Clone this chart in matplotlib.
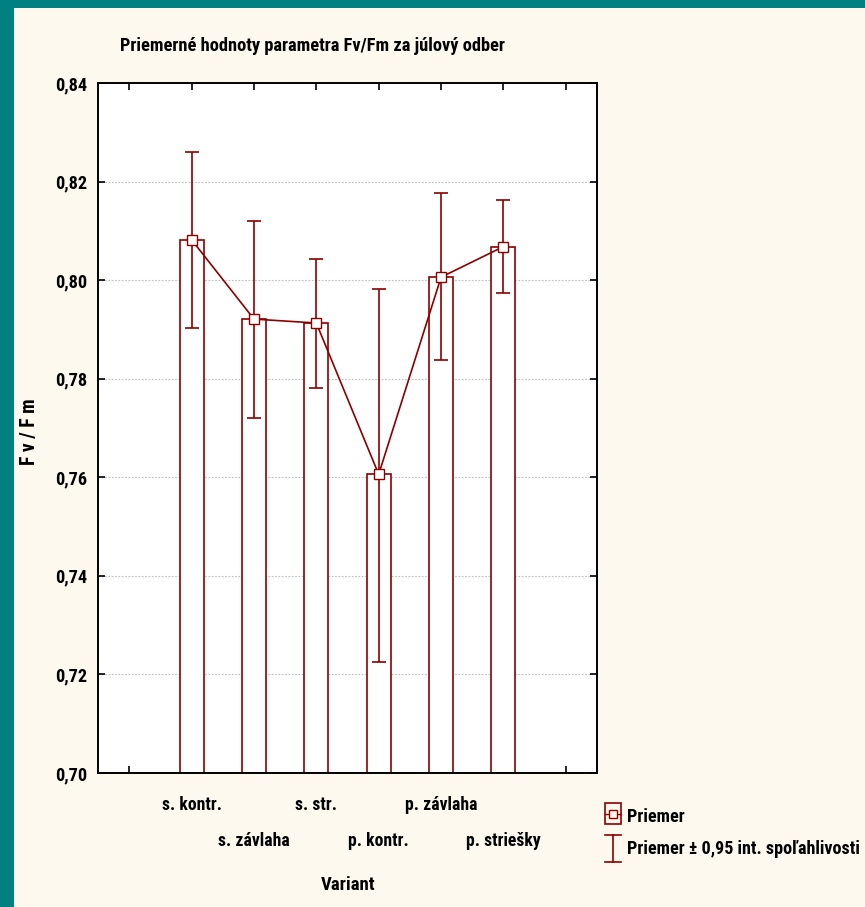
import matplotlib
matplotlib.use("Agg")
import matplotlib.pyplot as plt
from matplotlib.patches import Rectangle
from matplotlib.lines import Line2D
from matplotlib import font_manager as fm
import numpy as np

# ---- data ----
categories = ['s. kontr.', 's. závlaha', 's. str.', 'p. kontr.', 'p. závlaha', 'p. striešky']
means = [0.8082, 0.7921, 0.7913, 0.7606, 0.8006, 0.8068]
ci_low = [0.7902, 0.7720, 0.7782, 0.7225, 0.7837, 0.7973]
ci_high = [0.8259, 0.8121, 0.8043, 0.7983, 0.8176, 0.8163]
y_ticks = [0.70, 0.72, 0.74, 0.76, 0.78, 0.80, 0.82, 0.84]
y_tick_labels = ['0,70', '0,72', '0,74', '0,76', '0,78', '0,80', '0,82', '0,84']

title = 'Priemerné hodnoty parametra Fv/Fm za júlový odber'
x_label = 'Variant'
y_label = 'F v / F m'
legend_labels = ['Priemer', 'Priemer ± 0,95 int. spoľahlivosti']

RED = '#8B0000'
CREAM = '#FEF9EE'
TEAL = '#008080'


# ---- choose a narrow bold font if one is installed ----
def pick_font():
    narrow_names = ['Liberation Sans Narrow', 'Arial Narrow', 'Roboto Condensed',
                    'Open Sans Condensed', 'Noto Sans Condensed', 'DejaVu Sans Condensed']
    cands = []
    for f in fm.fontManager.ttflist:
        w = f.weight if isinstance(f.weight, int) else 700 if 'bold' in str(f.weight) else 400
        bold = w >= 600 and w <= 800
        if 'italic' in f.style or 'oblique' in f.style:
            continue
        st = str(f.stretch)
        cond = st in ('condensed', 'semi-condensed', 'extra-condensed') or \
            (isinstance(f.stretch, int) and f.stretch < 500)
        if f.name in narrow_names or (cond and f.name in ('DejaVu Sans', 'Noto Sans',
                                                          'Open Sans', 'Roboto', 'Liberation Sans')):
            cands.append((0 if bold else 1, narrow_names.index(f.name) if f.name in narrow_names else 9, f.fname))
    if cands:
        cands.sort()
        return fm.FontProperties(fname=cands[0][2])
    return fm.FontProperties(family=['Liberation Sans', 'DejaVu Sans'], weight='bold')


FP = pick_font()

W, H = 865, 907
fig = plt.figure(figsize=(W / 100, H / 100), dpi=100, facecolor=TEAL)
fig.patches.append(Rectangle((14 / W, 0), 1, 1 - 8 / H, transform=fig.transFigure,
                             facecolor=CREAM, edgecolor='none', zorder=-10))

ax = fig.add_axes([98 / W, 1 - 773 / H, (597 - 98) / W, (773 - 83) / H])
ax.set_facecolor('white')

x = np.arange(1, len(categories) + 1)
base = y_ticks[0]
m = np.array(means)
lo = np.array(ci_low)
hi = np.array(ci_high)

ax.bar(x, m - base, bottom=base, width=0.385, facecolor='white', edgecolor=RED,
       linewidth=1.2, zorder=2)
ax.errorbar(x, m, yerr=[m - lo, hi - m], fmt='none', ecolor=RED, elinewidth=1.2,
            capsize=4.8, capthick=1.2, zorder=3)
ax.plot(x, m, color=RED, linewidth=1.2, zorder=4)
ax.plot(x, m, linestyle='none', marker='s', markersize=6.5, markerfacecolor='white',
        markeredgecolor=RED, markeredgewidth=1.0, zorder=5)

ax.set_xlim(-0.5, 7.5)
ax.set_ylim(0.70, 0.84)
ax.set_yticks(y_ticks)
ax.set_yticklabels(y_tick_labels)
ax.set_xticks(np.arange(0, 8))
ax.set_xticklabels([''] + categories + [''])
ax.yaxis.grid(True, color='#BDBDBD', linestyle=(0, (1.5, 1.5)), linewidth=0.8)
ax.set_axisbelow(True)

ax.tick_params(axis='both', direction='in', length=5, width=1.2,
               top=True, right=True, colors='black')
ax.tick_params(axis='y', pad=8)
for i, t in enumerate(ax.xaxis.get_major_ticks()):
    t.set_pad(16.5 if i % 2 == 1 else 42.5)

for s in ax.spines.values():
    s.set_linewidth(1.4)
    s.set_color('black')

t_title = fig.text(312 / W, 1 - 46 / H, title, ha='center', va='center', fontproperties=FP.copy())
t_xl = fig.text(348 / W, 1 - 885 / H, x_label, ha='center', va='center', fontproperties=FP.copy())
t_yl = fig.text(30 / W, 1 - 432 / H, y_label, ha='center', va='center', rotation=90,
                fontproperties=FP.copy())

# legend (manual)
tf = fig.transFigure
def fx(px):
    return px / W
def fy(py):
    return 1 - py / H
fig.patches.append(Rectangle((fx(605), fy(824)), fx(621) - fx(605), fy(803) - fy(824),
                             transform=tf, facecolor='none', edgecolor=RED, linewidth=1.2))
fig.lines.append(Line2D([fx(605), fx(621)], [fy(813.5), fy(813.5)], transform=tf, color=RED, linewidth=1.0))
fig.lines.append(Line2D([fx(613)], [fy(813.5)], transform=tf, marker='s', markersize=6,
                        markerfacecolor=CREAM, markeredgecolor=RED, markeredgewidth=1.0))
fig.lines.append(Line2D([fx(613), fx(613)], [fy(835), fy(862)], transform=tf, color=RED, linewidth=1.2))
fig.lines.append(Line2D([fx(605), fx(621)], [fy(835), fy(835)], transform=tf, color=RED, linewidth=1.2))
fig.lines.append(Line2D([fx(605), fx(621)], [fy(862), fy(862)], transform=tf, color=RED, linewidth=1.2))
t_l1 = fig.text(fx(627), fy(817), legend_labels[0], ha='left', va='center', fontproperties=FP.copy())
t_l2 = fig.text(fx(627), fy(849), legend_labels[1], ha='left', va='center', fontproperties=FP.copy())

# ---- fit font sizes to the widths measured on the reference ----
renderer = fig.canvas.get_renderer()


def fit(texts, target_px, horizontal=True, start=14.0):
    size = start
    for _ in range(4):
        for t in texts:
            t.set_fontsize(size)
        bb = texts[0].get_window_extent(renderer)
        cur = bb.width if horizontal else bb.height
        if cur <= 0:
            break
        size = size * target_px / cur
    for t in texts:
        t.set_fontsize(size)
    return size


fit([t_title], 384)
fit([t_xl], 54)
fit([t_yl], 67, horizontal=False)
fit([t_l2, t_l1], 233)

ylabels = ax.get_yticklabels()
for lbl in ylabels:
    lbl.set_fontproperties(FP.copy())
fit([ylabels[-1]] + ylabels[:-1], 32)

xlabels = ax.get_xticklabels()
for lbl in xlabels:
    lbl.set_fontproperties(FP.copy())
fit([xlabels[1]] + xlabels[:1] + xlabels[2:], 60)

fig.savefig('out.png', dpi=100, facecolor=fig.get_facecolor())
